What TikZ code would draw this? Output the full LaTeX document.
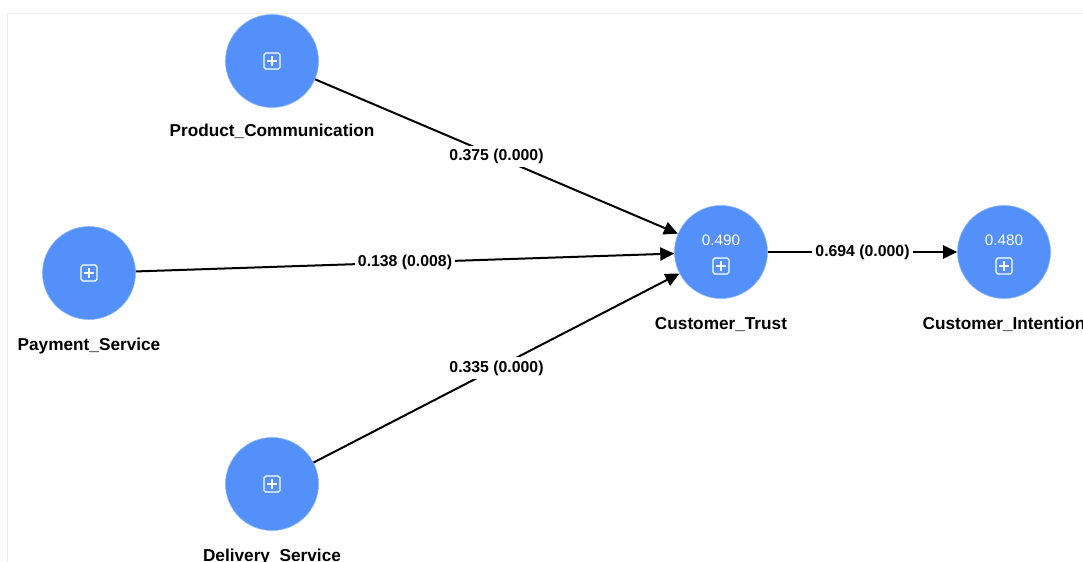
\documentclass[tikz,border=0pt]{standalone}
\usepackage{fontspec}
\setmainfont{Liberation Sans}
\usetikzlibrary{arrows.meta,calc}
\definecolor{lvblue}{RGB}{84,144,250}
\definecolor{lvrim}{RGB}{140,182,255}
\begin{document}
\begin{tikzpicture}[
        x=0.03cm, y=-0.03cm,
        lv/.style={circle, fill=lvblue, draw=lvrim, line width=0.5pt, minimum size=2.79cm, inner sep=0pt},
        lvname/.style={anchor=base, inner sep=0pt, font=\fontsize{14.7}{17}\selectfont\bfseries},
        rsq/.style={anchor=base, inner sep=0pt, text=white, font=\fontsize{13}{15}\selectfont},
        plusbox/.style={rectangle, draw=white, line width=1.2pt, rounded corners=1.5pt, minimum size=0.48cm, inner sep=0pt,
            path picture={\draw[white, line width=1.2pt]
                ([yshift=-0.1cm]path picture bounding box.north) -- ([yshift=0.1cm]path picture bounding box.south)
                ([xshift=0.1cm]path picture bounding box.west) -- ([xshift=-0.1cm]path picture bounding box.east);}},
        arrow/.style={-{Triangle[length=0.42cm, width=0.39cm]}, line width=0.06cm},
        coef/.style={midway, fill=white, inner sep=0.1cm, font=\fontsize{13.5}{15}\selectfont\bfseries}
    ]
        \useasboundingbox (0,0) rectangle (1083,562);
        \draw[black!7] (7,562) -- (7,13) -- (1083,13);

        % Exogenous constructs
        \node[lv] (prodcomm) at (272,61) {};
        \node[plusbox] (prodcomm-icon) at (prodcomm) {};
        \node[lvname] (prodcomm-name) at ($(prodcomm)+(0,76)$) {Product\_Communication};

        \node[lv] (payment) at (89,273) {};
        \node[plusbox] (payment-icon) at (payment) {};
        \node[lvname] (payment-name) at ($(payment)+(0,77)$) {Payment\_Service};

        \node[lv] (delivery) at (272,484) {};
        \node[plusbox] (delivery-icon) at (delivery) {};
        \node[lvname] (delivery-name) at ($(delivery)+(0,77)$) {Delivery\_Service};

        % Customer Trust
        \node[lv] (trust) at (721,252) {};
        \node[rsq] (trust-r2) at ($(trust)+(0,-7)$) {0.490};
        \node[plusbox] (trust-icon) at ($(trust)+(0,14)$) {};
        \node[lvname] (trust-name) at ($(trust)+(0,77)$) {Customer\_Trust};

        % Customer Intention
        \node[lv] (intention) at (1004,252) {};
        \node[rsq] (intention-r2) at ($(intention)+(0,-7)$) {0.480};
        \node[plusbox] (intention-icon) at ($(intention)+(0,14)$) {};
        \node[lvname] (intention-name) at ($(intention)+(0,77)$) {Customer\_Intention};

        % Paths
        \draw[arrow] (prodcomm) -- (trust) node[coef] (prodcomm-coef) {0.375 (0.000)};
        \draw[arrow] (payment) -- (trust) node[coef] (payment-coef) {0.138 (0.008)};
        \draw[arrow] (delivery) -- (trust) node[coef] (delivery-coef) {0.335 (0.000)};
        \draw[arrow] (trust) -- (intention) node[coef] (trust-coef) {0.694 (0.000)};

    \end{tikzpicture}
\end{document}
